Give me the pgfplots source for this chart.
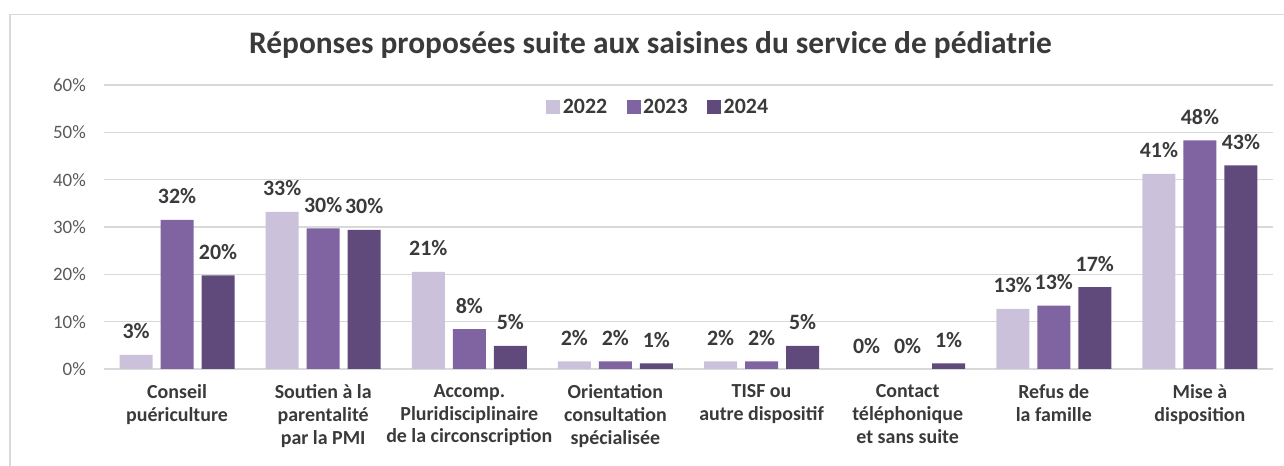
\documentclass[border=0pt]{standalone}
\usepackage{pgfplots}
\pgfplotsset{compat=1.18}
\usepackage{pgfplotstable}
\usepackage{fontspec}
\setmainfont{Carlito}
\definecolor{cA}{HTML}{CCC1DA}
\definecolor{cB}{HTML}{8064A2}
\definecolor{cC}{HTML}{604A7B}
\definecolor{txt}{HTML}{3A3A3A}
\definecolor{tickc}{HTML}{595959}
\definecolor{gridc}{HTML}{D9D9D9}

\pgfplotstableread{
x y l
0 2.96 3
1 33.2 33
2 20.5 21
3 1.6 2
4 1.6 2
5 0 0
6 12.7 13
7 41.2 41
}\tA
\pgfplotstableread{
x y l
0 31.5 32
1 29.7 30
2 8.4 8
3 1.6 2
4 1.6 2
5 0 0
6 13.4 13
7 48.3 48
}\tB
\pgfplotstableread{
x y l
0 19.8 20
1 29.4 30
2 4.86 5
3 1.2 1
4 4.86 5
5 1.2 1
6 17.3 17
7 43.0 43
}\tC

\begin{document}
\begin{tikzpicture}
\useasboundingbox (0,0) rectangle (1284bp,466bp);
\draw[color=gridc, line width=1.3bp] (10bp,-2bp) -- (10bp,451.5bp) -- (1286bp,451.5bp);
\begin{axis}[
  at={(104bp,97bp)}, anchor=south west,
  width=1169bp, height=284bp, scale only axis,
  ymin=0, ymax=60, xmin=-0.5, xmax=7.5,
  ybar=8bp, bar width=33bp,
  axis x line*=bottom, axis y line*=left,
  x axis line style={draw=gridc, line width=1.2bp},
  y axis line style={draw=none},
  major tick length=0pt,
  ymajorgrids, grid style={draw=gridc, line width=1.2bp},
  ytick={0,10,20,30,40,50,60},
  yticklabels={0\%,10\%,20\%,30\%,40\%,50\%,60\%},
  yticklabel style={font=\fontsize{19}{22}\selectfont, text=tickc, inner sep=0pt, xshift=-18bp},
  xtick={0,...,7},
  xticklabels={
    {Conseil\\puériculture},
    {Soutien à la\\parentalité\\par la PMI},
    {Accomp.\\Pluridisciplinaire\\de la circonscription},
    {Orientation\\consultation\\spécialisée},
    {TISF ou\\autre dispositif},
    {Contact\\téléphonique\\et sans suite},
    {Refus de\\la famille},
    {Mise à\\disposition}},
  xticklabel style={font=\bfseries\fontsize{20}{23}\selectfont, text=txt, align=center, anchor=north, inner sep=0pt, yshift=-15bp},
  title={Réponses proposées suite aux saisines du service de pédiatrie},
  title style={font=\bfseries\fontsize{31.5}{34}\selectfont, text=txt, at={(0.4675,1.0898)}, anchor=base, inner sep=0pt},
  legend style={draw=none, fill=none, at={(0.4743,0.9225)}, anchor=center,
    legend columns=-1, font=\bfseries\fontsize{22}{24}\selectfont, text=txt,
    nodes={inner xsep=2.5bp, inner ysep=0pt},
    /tikz/every even column/.append style={column sep=17bp}},
  legend image code/.code={\fill[#1] (0bp,-7bp) rectangle (14bp,7bp);},
  point meta=explicit symbolic,
  nodes near coords={\pgfplotspointmeta\%},
  every node near coord/.append style={font=\bfseries\fontsize{22}{24}\selectfont, text=txt, anchor=base, inner sep=0pt, yshift=16bp},
]
\addplot[fill=cA, draw=none] table[x=x, y=y, meta=l] {\tA};
\addplot[fill=cB, draw=none] table[x=x, y=y, meta=l] {\tB};
\addplot[fill=cC, draw=none] table[x=x, y=y, meta=l] {\tC};
\legend{2022,2023,2024}
\end{axis}
\end{tikzpicture}
\end{document}
